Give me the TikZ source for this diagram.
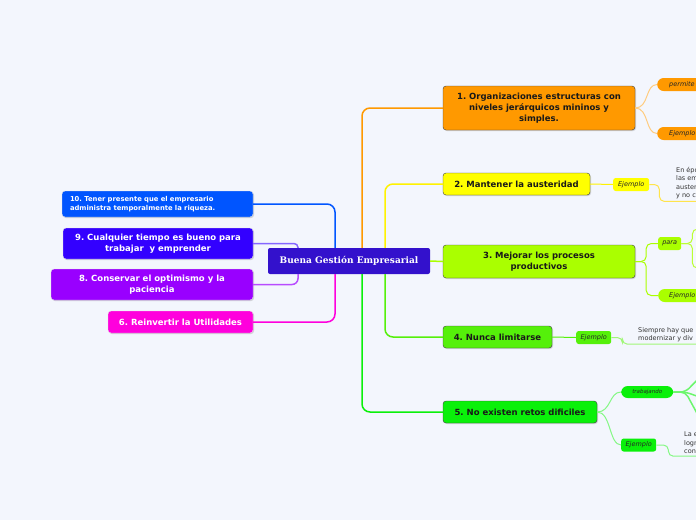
\documentclass[tikz,border=0pt]{standalone}
\usepackage{fontspec}
\setmainfont{DejaVu Sans}
\newfontfamily\rootserif{DejaVu Serif}
\usetikzlibrary{positioning,shadows}
\frenchspacing
\definecolor{bgpaper}{RGB}{243,246,253}
\definecolor{rootblue}{RGB}{51,17,204}
\definecolor{topicorange}{RGB}{255,153,0}
\definecolor{topicyellow}{RGB}{255,255,0}
\definecolor{topiclime}{RGB}{170,255,0}
\definecolor{topicgreen}{RGB}{85,240,10}
\definecolor{topicgreenb}{RGB}{10,240,10}
\definecolor{leftblue}{RGB}{0,85,255}
\definecolor{leftviolet}{RGB}{51,0,255}
\definecolor{leftpurple}{RGB}{153,0,255}
\definecolor{leftmagenta}{RGB}{255,0,221}
\tikzset{
	rootbox/.style   = {fill=rootblue,text=white,rounded corners=2pt,inner sep=0pt,font={\rootserif\fontsize{9}{11}\selectfont\bfseries}},
	topic/.style     = {draw=black!75,rounded corners=3pt,inner sep=0pt,align=center,text=black!90,font={\fontsize{8.5}{11}\selectfont\bfseries},drop shadow={opacity=.3,shadow xshift=1pt,shadow yshift=-1pt}},
	lefttopic/.style = {draw=white!80!gray,rounded corners=3pt,inner sep=0pt,align=center,text=white,font={\fontsize{8.5}{11}\selectfont\bfseries},drop shadow={opacity=.3,shadow xshift=1pt,shadow yshift=-1pt}},
	tag/.style       = {rounded corners=2.5pt,inner sep=0pt,minimum height=13pt,font={\fontsize{6.5}{8}\selectfont\itshape},text=black!85},
	pill/.style      = {rounded corners=6.5pt,inner ysep=0pt,inner xsep=12pt,minimum height=13pt,font={\fontsize{6.5}{8}\selectfont\itshape},text=black!85},
	note/.style      = {anchor=north west,align=left,inner xsep=0pt,inner ysep=2pt,font={\fontsize{6.5}{8.5}\selectfont},text=black!80},
	trunk/.style     = {line width=1.5pt,rounded corners=8pt},
	twig/.style      = {line width=1pt,rounded corners=5pt},
}
\begin{document}
\begin{tikzpicture}[x=1pt, y=-1pt]
		\useasboundingbox (0,0) rectangle (696,520);
		\clip (0,0) rectangle (696,520);
		\fill[bgpaper] (0,0) rectangle (696,520);
		% branch columns and the free ends beyond the right rim
		\coordinate (outerx) at (362,0);
		\coordinate (innerx) at (385,0);
		\coordinate (leftx) at (335,0);
		\coordinate (nearx) at (298,0);
		\coordinate (rim) at (705,0);
		\coordinate (r3a) at (705,229);
		\coordinate (r3b) at (705,268);
		\coordinate (r5a) at (705,372);
		\coordinate (r5b) at (705,399);
		\coordinate (r5c) at (705,428);
		% centre and main topics
		\node[rootbox, minimum width=162pt, minimum height=26pt] (root) at (349,261) {Buena Gestión Empresarial};
		\node[topic, fill=topicorange, minimum width=192pt, minimum height=44pt] (t1) at (539,108) {1. Organizaciones estructuras con\\niveles jerárquicos mininos y\\simples.};
		\node[topic, fill=topicyellow, minimum width=147pt, minimum height=22pt] (t2) at (516.5,184) {2. Mantener la austeridad};
		\node[topic, fill=topiclime, minimum width=192pt, minimum height=33pt] (t3) at (539,261.5) {3. Mejorar los procesos\\productivos};
		\node[topic, fill=topicgreen, minimum width=109pt, minimum height=22pt] (t4) at (497.5,337) {4. Nunca limitarse};
		\node[topic, fill=topicgreenb, minimum width=154pt, minimum height=22pt] (t5) at (520,412) {5. No existen retos dificiles};
		\node[lefttopic, fill=leftblue, minimum height=26pt, text width=175pt, inner xsep=8pt, align=left, font={\fontsize{6.8}{8.3}\selectfont\bfseries}] (t10) at (157.5,204) {10. Tener presente que el empresario\\administra temporalmente la riqueza.};
		\node[lefttopic, fill=leftviolet, minimum width=190pt, minimum height=31pt] (t9) at (158,243.5) {9. Cualquier tiempo es bueno para\\trabajar~ y emprender};
		\node[lefttopic, fill=leftpurple, minimum width=202pt, minimum height=31pt] (t8) at (152,284.5) {8. Conservar el optimismo y la\\paciencia};
		\node[lefttopic, fill=leftmagenta, minimum width=145pt, minimum height=22pt] (t6) at (180.5,322) {6. Reinvertir la Utilidades};
		% sub topics
		\node[pill, fill=topicorange, anchor=west] (p1) at (657,84.5) {permite};
		\node[pill, fill=topicorange, anchor=west] (e1) at (657,133.5) {Ejemplo};
		\node[tag, fill=topicyellow, anchor=west, minimum width=36pt] (e2) at (613,184.5) {Ejemplo};
		\node[note] (n2) at (676,165) {En épo\\las em\\auster\\y no c};
		\node[tag, fill=topiclime, anchor=west, minimum width=23pt] (pa3) at (658,243.5) {para};
		\node[pill, fill=topiclime, anchor=west, inner xsep=11pt] (e3) at (658,295.5) {Ejemplo};
		\node[tag, fill=topicgreen, anchor=west, minimum width=35pt] (e4) at (576,337.5) {Ejemplo};
		\node[note] (n4) at (638,325) {Siempre hay que\\modernizar y div};
		\node[pill, fill=topicgreenb, anchor=west, minimum width=52pt, inner xsep=4pt, minimum height=12pt, font={\fontsize{5.5}{7}\selectfont\itshape}] (tr5) at (621,392) {trabajando};
		\node[tag, fill=topicgreenb, anchor=west, minimum width=35pt] (e5) at (621,445) {Ejemplo};
		\node[note] (n5) at (684,430) {La e\\logr\\con};
		% trunks
		\draw[trunk, topicorange] (root.north -| outerx) |- (t1.west);
		\draw[trunk, topicyellow!90!orange] (root.north -| innerx) |- (t2.west);
		\draw[trunk, topiclime] (root.east) -- (t3.west);
		\draw[trunk, topicgreen] (root.south -| innerx) |- (t4.west);
		\draw[trunk, topicgreenb] (root.south -| outerx) |- (t5.west);
		\draw[trunk, leftblue] (root.north -| leftx) |- (t10.east);
		\draw[trunk, leftviolet!60, rounded corners=4pt] (root.north -| nearx) |- (t9.east);
		\draw[trunk, leftpurple!70, rounded corners=6pt] (root.south -| nearx) |- (t8.east);
		\draw[trunk, leftmagenta] (root.south -| leftx) |- (t6.east);
		% twigs
		\draw[twig, topicorange!50] (t1.east) .. controls +(14,0) and +(-12,0) .. (p1.west);
		\draw[twig, topicorange!50] (t1.east) .. controls +(14,0) and +(-12,0) .. (e1.west);
		\draw[twig, topicyellow!90!orange] (t2.east) -- (e2.west);
		\draw[twig, topicyellow!70!orange!70] (e2.east) -- ++(10,0) |- (n2.south -| rim);
		\draw[twig, topiclime] (t3.east) -- ++(11,0) |- (pa3.west);
		\draw[twig, topiclime] (t3.east) -- ++(11,0) |- (e3.west);
		\draw[twig, topiclime!80] (pa3.east) -- ++(11,0) |- (r3a);
		\draw[twig, topiclime!80] (pa3.east) -- ++(11,0) |- (r3b);
		\draw[twig, topicgreen] (t4.east) -- (e4.west);
		\draw[twig, topicgreen!55] (e4.east) -- ++(11,0) |- (n4.south -| rim);
		\draw[twig, topicgreenb!50] (t5.east) .. controls +(14,0) and +(-12,0) .. (tr5.west);
		\draw[twig, topicgreenb!50] (t5.east) .. controls +(14,0) and +(-12,0) .. (e5.west);
		\draw[twig, topicgreenb!60, line width=1.5pt] (tr5.east) -- ++(12,0) -- (r5a);
		\draw[twig, topicgreenb!60, line width=1.5pt] (tr5.east) -- ++(12,0) -- (r5b);
		\draw[twig, topicgreenb!60, line width=1.5pt] (tr5.east) -- ++(12,0) -- (r5c);
		\draw[twig, topicgreenb!50] (e5.east) -- ++(12,0) |- (n5.south -| rim);
\end{tikzpicture}
\end{document}
